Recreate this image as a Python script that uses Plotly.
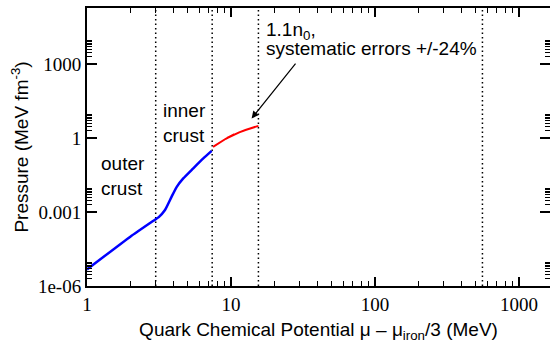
import numpy as np
import plotly.graph_objects as go

# ---- data ----
blue_mu = [1.0, 2.0, 3.0, 3.15, 3.48, 3.87, 4.20, 4.66, 5.47, 6.42, 7.34]
blue_p = [4.7e-6, 1.0e-4, 5.1e-4, 6.2e-4, 1.2e-3, 4.2e-3, 1.05e-2, 2.3e-2, 5.9e-2, 0.148, 0.30]

red_mu = [7.5, 8.4, 9.2, 10.5, 9.4, 11.0, 9.9, 11.4, 12.6, 14.0, 15.5]
red_p = [0.44, 0.69, 0.93, 1.40, 1.00, 1.58, 1.14, 1.68, 2.10, 2.60, 3.10]

boundary_mu = [3.0, 7.4, 15.5, 557.0]

x_major = [1, 10, 100, 1000]
x_major_text = ["1", "10", "100", "1000"]
y_major = [1e-6, 1e-3, 1, 1e3]
y_major_text = ["1e-06", "0.001", "1", "1000"]

x_range_log = [0, 3.215]
y_range_log = [-6, 5.27]

x_minor = [m * 10.0**k for k in range(0, 4) for m in range(2, 10)]
y_minor = [m * 10.0**k for k in (-6, -3, 0, 3) for m in range(2, 10)]

fig = go.Figure()

for b in boundary_mu:
    fig.add_trace(go.Scatter(
        x=[b, b], y=[10**y_range_log[0], 10**y_range_log[1]],
        mode="lines", line=dict(color="black", width=1.5, dash="1.5px,3px"),
        showlegend=False, hoverinfo="skip"))

fig.add_trace(go.Scatter(x=blue_mu, y=blue_p, mode="lines",
                         line=dict(color="#0000ff", width=2.5, shape="spline", smoothing=0.5),
                         showlegend=False))
fig.add_trace(go.Scatter(x=red_mu, y=red_p, mode="lines",
                         line=dict(color="#ff0000", width=2),
                         showlegend=False))
# invisible trace anchoring the minor-tick overlay axes
fig.add_trace(go.Scatter(x=[x_major[0]], y=[y_major[0]], xaxis="x2", yaxis="y2",
                         mode="markers", marker=dict(opacity=0), showlegend=False,
                         hoverinfo="skip"))

tickfont = dict(family="Liberation Serif", size=19, color="black")
titlefont = dict(family="Liberation Sans", size=19, color="black")

fig.update_layout(
    width=550, height=343,
    margin=dict(l=87, r=0, t=8, b=57),
    paper_bgcolor="white", plot_bgcolor="white",
    showlegend=False,
    xaxis=dict(
        type="log", range=x_range_log, automargin=False,
        showline=True, linecolor="black", linewidth=2, mirror="ticks",
        ticks="inside", ticklen=9, tickwidth=1.6, tickcolor="black",
        tickmode="array", tickvals=x_major, ticktext=x_major_text,
        tickfont=tickfont, showgrid=False, zeroline=False,
        title=dict(text="Quark Chemical Potential \u03bc \u2013 \u03bc<sub>iron</sub>/3 (MeV)",
                   font=titlefont, standoff=10),
    ),
    yaxis=dict(
        type="log", range=y_range_log, automargin=False,
        showline=True, linecolor="black", linewidth=2, mirror="ticks",
        ticks="inside", ticklen=10, tickwidth=1.6, tickcolor="black",
        tickmode="array", tickvals=y_major, ticktext=y_major_text,
        tickfont=tickfont, showgrid=False, zeroline=False,
        title=dict(text="Pressure (MeV fm<sup>-3</sup>)", font=titlefont, standoff=4),
    ),
    xaxis2=dict(
        type="log", range=x_range_log, overlaying="x", anchor="y2", automargin=False,
        showline=False, mirror="ticks", ticks="inside", ticklen=5, tickwidth=1.3,
        tickcolor="black", tickmode="array", tickvals=x_minor,
        showticklabels=False, showgrid=False, zeroline=False,
    ),
    yaxis2=dict(
        type="log", range=y_range_log, overlaying="y", anchor="x2", automargin=False,
        showline=False, mirror="ticks", ticks="inside", ticklen=5, tickwidth=1.3,
        tickcolor="black", tickmode="array", tickvals=y_minor,
        showticklabels=False, showgrid=False, zeroline=False,
    ),
)

annfont = dict(family="Liberation Sans", size=19, color="black")

def px2paper(px, py):
    return (px - 87) / 463.0, (286 - py) / 278.0

ax_, ay_ = px2paper(99, 176)
fig.add_annotation(x=ax_, y=ay_, xref="paper", yref="paper", text="outer<br>crust",
                   showarrow=False, xanchor="left", yanchor="middle", align="left", font=annfont)
ax_, ay_ = px2paper(161, 123)
fig.add_annotation(x=ax_, y=ay_, xref="paper", yref="paper", text="inner<br>crust",
                   showarrow=False, xanchor="left", yanchor="middle", align="left", font=annfont)
ax_, ay_ = px2paper(264, 31)
fig.add_annotation(x=ax_, y=ay_, xref="paper", yref="paper", text="1.1n<sub>0</sub>,",
                   showarrow=False, xanchor="left", yanchor="middle", align="left", font=annfont)
ax_, ay_ = px2paper(264, 49)
fig.add_annotation(x=ax_, y=ay_, xref="paper", yref="paper", text="systematic errors +/-24%",
                   showarrow=False, xanchor="left", yanchor="middle", align="left", font=annfont)

# arrow pointing at the red band end
fig.add_annotation(x=np.log10(13.9), y=np.log10(6.2), xref="x", yref="y",
                   ax=np.log10(28.6), ay=3.08, axref="x", ayref="y",
                   text="", showarrow=True, arrowhead=2, arrowsize=1.2,
                   arrowwidth=1.2, arrowcolor="black")

fig.write_html("out.html", config={"displayModeBar": False},
               post_script="document.body.style.margin='0px';"
                           "document.body.style.overflow='hidden';")
